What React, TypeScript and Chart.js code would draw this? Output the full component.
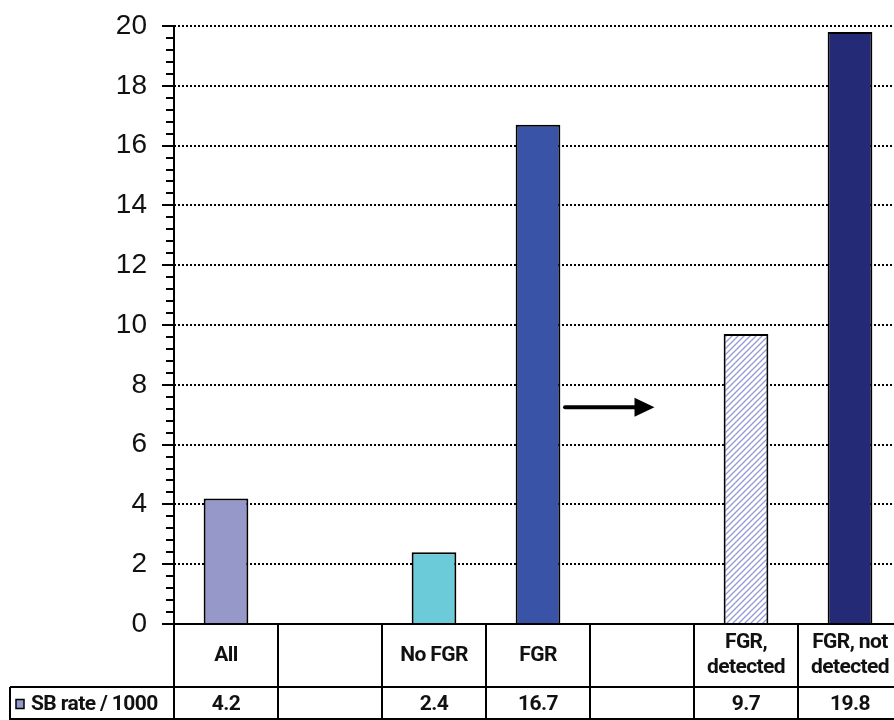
import React, { useEffect, useRef } from 'react';
import { Chart, registerables } from 'chart.js';

Chart.register(...registerables);

// Stillbirth rate per 1000 births by growth-restriction group
const categories: string[][] = [
  ['All'],
  [''],
  ['No FGR'],
  ['FGR'],
  [''],
  ['FGR,', 'detected'],
  ['FGR, not', 'detected'],
];
const sbRate: (number | null)[] = [4.2, null, 2.4, 16.7, null, 9.7, 19.8];
const seriesName = 'SB rate / 1000';
const yTicksMax = 20;
const yTickStep = 2;

// Arrow from the FGR group toward its detected / not detected split (category index, value)
const arrowFrom = 3.26;
const arrowTo = 4.12;
const arrowLevel = 7.25;

const barColors = ['#9698CA', '#000', '#6BCBD9', '#3954A6', '#000', 'HATCH', '#252A77'];
const legendSwatch = '#9698CA';

const TABLE_FONT = 'bold 21px Roboto, "Open Sans", sans-serif';

function makeHatch(): CanvasPattern | string {
  const s = 6;
  const c = document.createElement('canvas');
  c.width = s;
  c.height = s;
  const g = c.getContext('2d');
  if (!g) return '#fff';
  g.fillStyle = '#ffffff';
  g.fillRect(0, 0, s, s);
  g.strokeStyle = '#9599D4';
  g.lineWidth = 1.3;
  g.beginPath();
  g.moveTo(-1, s + 1);
  g.lineTo(s + 1, -1);
  g.moveTo(-1, 1);
  g.lineTo(1, -1);
  g.moveTo(s - 1, s + 1);
  g.lineTo(s + 1, s - 1);
  g.stroke();
  return g.createPattern(c, 'repeat') || '#fff';
}

// Minor/major tick marks, axis line, data table and the arrow
const decorPlugin = {
  id: 'decor',
  afterDraw(chart: any) {
    const { ctx, chartArea } = chart;
    const xs = chart.scales.x;
    const ys = chart.scales.y;
    const left = chartArea.left;
    const right = chartArea.right;
    const base = ys.getPixelForValue(0);
    const n = categories.length;
    const colW = (right - left) / n;
    const rowSplit = base + 63;
    const tableBottom = chart.height;
    const headLeft = 10;

    ctx.save();
    ctx.strokeStyle = '#000';
    ctx.lineWidth = 2;
    ctx.setLineDash([]);

    // tick marks on the value axis
    for (let i = 0; i <= yTicksMax / 0.4 + 0.001; i++) {
      const v = i * 0.4;
      const y = Math.round(ys.getPixelForValue(v));
      const major = i % 5 === 0;
      ctx.beginPath();
      ctx.moveTo(left - (major ? 12 : 8), y);
      ctx.lineTo(left, y);
      ctx.stroke();
    }
    // axis line
    ctx.beginPath();
    ctx.moveTo(left, ys.getPixelForValue(yTicksMax) - 1);
    ctx.lineTo(left, tableBottom);
    ctx.stroke();

    // table grid
    ctx.beginPath();
    ctx.moveTo(left - 12, base);
    ctx.lineTo(right + 10, base);
    ctx.moveTo(headLeft, rowSplit);
    ctx.lineTo(right + 10, rowSplit);
    ctx.moveTo(headLeft, tableBottom - 1);
    ctx.lineTo(right + 10, tableBottom - 1);
    ctx.moveTo(headLeft, rowSplit);
    ctx.lineTo(headLeft, tableBottom);
    for (let i = 0; i <= n; i++) {
      const x = Math.round(left + i * colW);
      ctx.moveTo(x, base);
      ctx.lineTo(x, tableBottom);
    }
    ctx.stroke();

    // table text
    ctx.fillStyle = '#111';
    ctx.font = TABLE_FONT;
    ctx.textAlign = 'center';
    ctx.textBaseline = 'middle';
    try { (ctx as any).letterSpacing = '-0.6px'; } catch (e) { /* ignore */ }
    const catMid = (base + rowSplit) / 2;
    const dataMid = (rowSplit + tableBottom) / 2 + 1;
    categories.forEach((lines, i) => {
      const cx = xs.getPixelForValue(i);
      const lh = 25;
      const y0 = catMid - ((lines.length - 1) * lh) / 2;
      lines.forEach((t, k) => ctx.fillText(t, cx, y0 + k * lh));
      const v = sbRate[i];
      if (v !== null && v !== undefined) ctx.fillText(v.toFixed(1), cx, dataMid);
    });

    // series header cell with legend swatch
    ctx.textAlign = 'left';
    ctx.fillStyle = legendSwatch;
    ctx.fillRect(16, dataMid - 5, 8, 9);
    ctx.lineWidth = 1.5;
    ctx.strokeRect(16, dataMid - 5, 8, 9);
    ctx.fillStyle = '#111';
    ctx.fillText(seriesName, 31, dataMid);

    // arrow
    const p3 = xs.getPixelForValue(3);
    const p4 = xs.getPixelForValue(4);
    const ax1 = p3 + (p4 - p3) * (arrowFrom - 3);
    const ax2 = p3 + (p4 - p3) * (arrowTo - 3);
    const ay = ys.getPixelForValue(arrowLevel);
    ctx.lineWidth = 4;
    ctx.lineCap = 'round';
    ctx.beginPath();
    ctx.moveTo(ax1, ay);
    ctx.lineTo(ax2 - 16, ay);
    ctx.stroke();
    ctx.fillStyle = '#000';
    ctx.beginPath();
    ctx.moveTo(ax2, ay);
    ctx.lineTo(ax2 - 20, ay - 9.5);
    ctx.lineTo(ax2 - 20, ay + 9.5);
    ctx.closePath();
    ctx.fill();
    ctx.restore();
  },
};

export default function App() {
  const ref = useRef<HTMLCanvasElement | null>(null);

  useEffect(() => {
    if (!ref.current) return;
    const hatch = makeHatch();
    const colors = barColors.map((c) => (c === 'HATCH' ? hatch : c));
    const chart = new Chart(ref.current, {
      type: 'bar',
      data: {
        labels: categories.map((l) => l.join(' ')),
        datasets: [
          {
            label: seriesName,
            data: sbRate as any,
            backgroundColor: colors as any,
            borderColor: '#000',
            borderWidth: 2,
            borderSkipped: 'bottom',
            barPercentage: 0.43,
            categoryPercentage: 1,
          },
        ],
      },
      options: {
        responsive: false,
        animation: false,
        devicePixelRatio: 1,
        layout: { padding: { top: 26, bottom: 96, left: 0, right: 2 } },
        plugins: {
          legend: { display: false },
          tooltip: { enabled: false },
        },
        scales: {
          x: { display: false, offset: true },
          y: {
            min: 0,
            max: yTicksMax,
            afterFit: (s: any) => {
              s.width = 174;
              s.paddingTop = 0;
              s.paddingBottom = 0;
            },
            ticks: {
              stepSize: yTickStep,
              padding: 27,
              color: '#111',
              font: { family: '"Liberation Sans", Arial, sans-serif', size: 28 },
            },
            grid: {
              drawTicks: false,
              lineWidth: 2,
              color: (c: any) => (c.tick && c.tick.value === 0 ? 'rgba(0,0,0,0)' : '#000'),
            },
            border: { display: false, dash: [2, 2] },
          },
        },
      },
      plugins: [decorPlugin],
    });
    return () => chart.destroy();
  }, []);

  return (
    <div
      style={{
        position: 'absolute',
        left: 0,
        top: 0,
        width: 894,
        height: 720,
        overflow: 'hidden',
        background: '#fff',
      }}
    >
      <canvas ref={ref} width={904} height={720} style={{ width: 904, height: 720, display: 'block' }} />
    </div>
  );
}
